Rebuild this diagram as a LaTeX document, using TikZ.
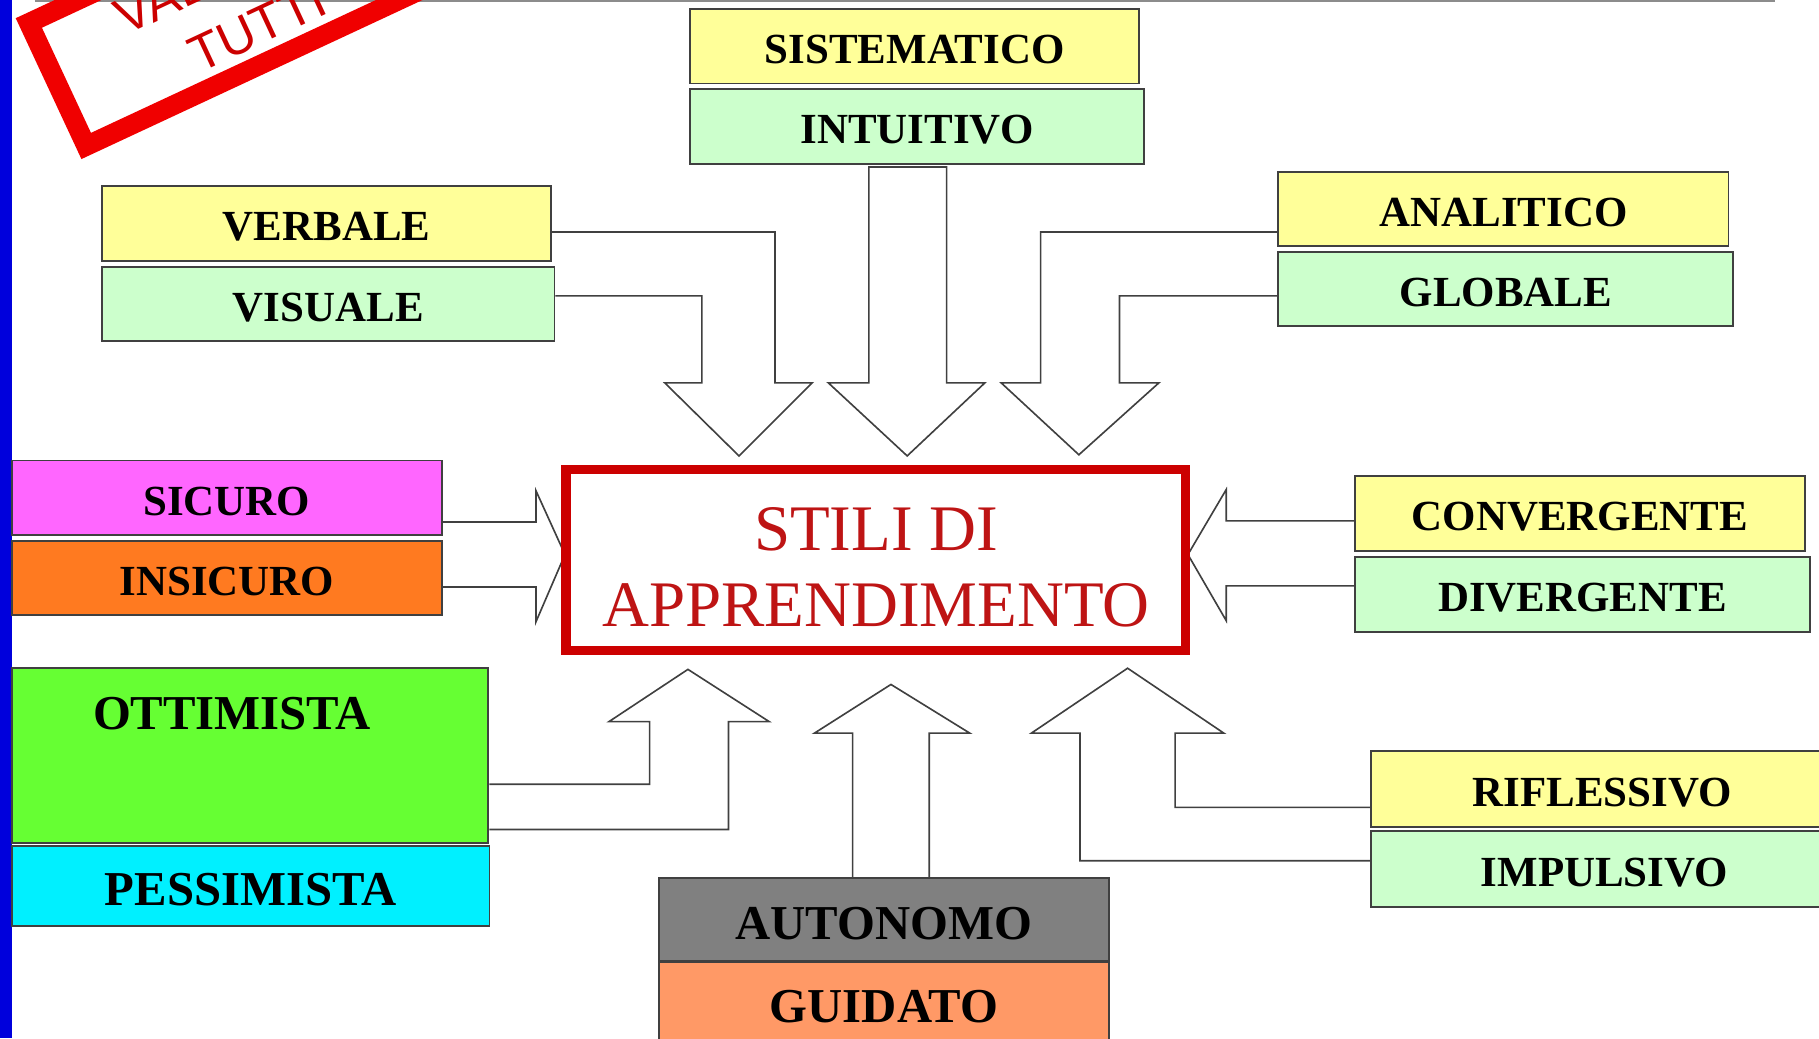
\documentclass[tikz,border=0pt]{standalone}
\usepackage{fontspec}
\setmainfont{Liberation Serif}
\newfontfamily\stampfont{Liberation Sans}
\usetikzlibrary{backgrounds}

\definecolor{boxyellow}{RGB}{255,255,153}
\definecolor{boxgreen}{RGB}{204,255,204}
\definecolor{boxmagenta}{RGB}{255,102,255}
\definecolor{boxorange}{RGB}{255,122,32}
\definecolor{boxlime}{RGB}{102,255,51}
\definecolor{boxcyan}{RGB}{0,240,255}
\definecolor{boxgray}{RGB}{128,128,128}
\definecolor{boxsalmon}{RGB}{255,153,102}
\definecolor{stilired}{RGB}{204,0,0}
\definecolor{stilitext}{RGB}{190,20,20}
\definecolor{stampred}{RGB}{240,0,0}
\definecolor{leftblue}{RGB}{0,0,220}

\begin{document}
\begin{tikzpicture}[x=1pt,y=-1pt,
	box/.style={draw=black!75, line width=1.6, inner sep=0pt, text height=30pt, text depth=0pt, font=\fontsize{37}{44}\selectfont\bfseries},
	bigbox/.style={box, text height=34pt, font=\fontsize{42}{48}\selectfont\bfseries},
	blockarrow/.style={draw=black!75, line width=1.4, fill=white, line join=miter}]
	\useasboundingbox (0,0) rectangle (1568,895);
	\clip (0,0) rectangle (1568,895);
	\draw[black!45, line width=2] (30,1) -- (1530,1);
	\node (timbro) [draw=stampred, line width=17, minimum width=354, minimum height=117, rotate=25, align=center, text=red!80!black, font=\stampfont\fontsize{44}{56}\selectfont] at (210,-2) {VALE PER\\TUTTI};
	\fill[leftblue] (0,0) rectangle (10,895);
	% top
	\node (sistematico) [box, fill=boxyellow, minimum width=387, minimum height=64] at (788.5,40) {SISTEMATICO};
	\node (intuitivo) [box, fill=boxgreen, minimum width=391, minimum height=64] at (790.5,109) {INTUITIVO};
	\node (verbale) [box, fill=boxyellow, minimum width=387, minimum height=65] at (281.5,192.5) {VERBALE};
	\node (visuale) [box, fill=boxgreen, minimum width=390, minimum height=64] at (283,262) {VISUALE};
	\node (analitico) [box, fill=boxyellow, minimum width=388, minimum height=64] at (1296,180) {ANALITICO};
	\node (globale) [box, fill=boxgreen, minimum width=392, minimum height=64] at (1298,249) {GLOBALE};
	% middle
	\node (sicuro) [box, fill=boxmagenta, minimum width=371, minimum height=64] at (195.5,429) {SICURO};
	\node (insicuro) [box, fill=boxorange, minimum width=371, minimum height=64] at (195.5,498) {INSICURO};
	\node (convergente) [box, fill=boxyellow, minimum width=388, minimum height=65] at (1362,442.5) {CONVERGENTE};
	\node (divergente) [box, fill=boxgreen, minimum width=392, minimum height=65] at (1364,512.5) {DIVERGENTE};
	\node (stili) [draw=stilired, line width=8, fill=white, minimum width=534, minimum height=156] at (755,483) {};
	\node (stilitxt) [align=center, text=stilitext, font=\fontsize{56}{65}\selectfont, inner sep=0pt] at (755,489) {STILI DI\\APPRENDIMENTO};
	% bottom
	\node (ottimista) [bigbox, fill=boxlime, minimum width=411, minimum height=151] at (215.5,651.5) {};
	\node (ottimistatxt) [font=\fontsize{42}{48}\selectfont\bfseries, inner sep=0pt] at (200,615) {OTTIMISTA};
	\node (pessimista) [bigbox, fill=boxcyan, minimum width=412, minimum height=69] at (216,763.5) {PESSIMISTA};
	\node (autonomo) [bigbox, fill=boxgray, minimum width=388, minimum height=71] at (762,792.5) {AUTONOMO};
	\node (guidato) [bigbox, fill=boxsalmon, minimum width=388, minimum height=71] at (762,864.5) {GUIDATO};
	\node (riflessivo) [box, fill=boxyellow, minimum width=398, minimum height=66] at (1381,680) {RIFLESSIVO};
	\node (impulsivo) [box, fill=boxgreen, minimum width=402, minimum height=66] at (1383,749) {IMPULSIVO};
	% block arrows
	\begin{scope}[on background layer]
		\draw[blockarrow] (verbale.east |- 0,200) -- (668,200) -- (668,330) -- (700,330) -- (637,393) -- (573,330) -- (605,330) -- (605,255) -- (visuale.east |- 0,255);
		\draw[blockarrow] (749,144) -- (816,144) -- (816,330) -- (849,330) -- (782,393) -- (714,330) -- (749,330) -- cycle;
		\draw[blockarrow] (analitico.west |- 0,200) -- (897,200) -- (897,330) -- (863,330) -- (930,392) -- (999,330) -- (965,330) -- (965,255) -- (globale.west |- 0,255);
		\draw[blockarrow] (sicuro.east |- 0,450) -- (462,450) -- (462,423) -- (487,478) -- (462,536) -- (462,506) -- (insicuro.east |- 0,506);
		\draw[blockarrow] (convergente.west |- 0,449) -- (1057,449) -- (1057,422) -- (1024,478) -- (1057,535) -- (1057,505) -- (divergente.west |- 0,505);
		\draw[blockarrow] (ottimista.east |- 0,676) -- (560,676) -- (560,622) -- (525,622) -- (593,577) -- (663,622) -- (628,622) -- (628,715) -- (ottimista.east |- 0,715);
		\draw[blockarrow] (autonomo.north -| 735,0) -- (735,632) -- (702,632) -- (768,590) -- (836,632) -- (801,632) -- (autonomo.north -| 801,0);
		\draw[blockarrow] (riflessivo.west |- 0,696) -- (1013,696) -- (1013,632) -- (1055,632) -- (972,576) -- (889,632) -- (931,632) -- (931,742) -- (impulsivo.west |- 0,742);
	\end{scope}
\end{tikzpicture}
\end{document}
